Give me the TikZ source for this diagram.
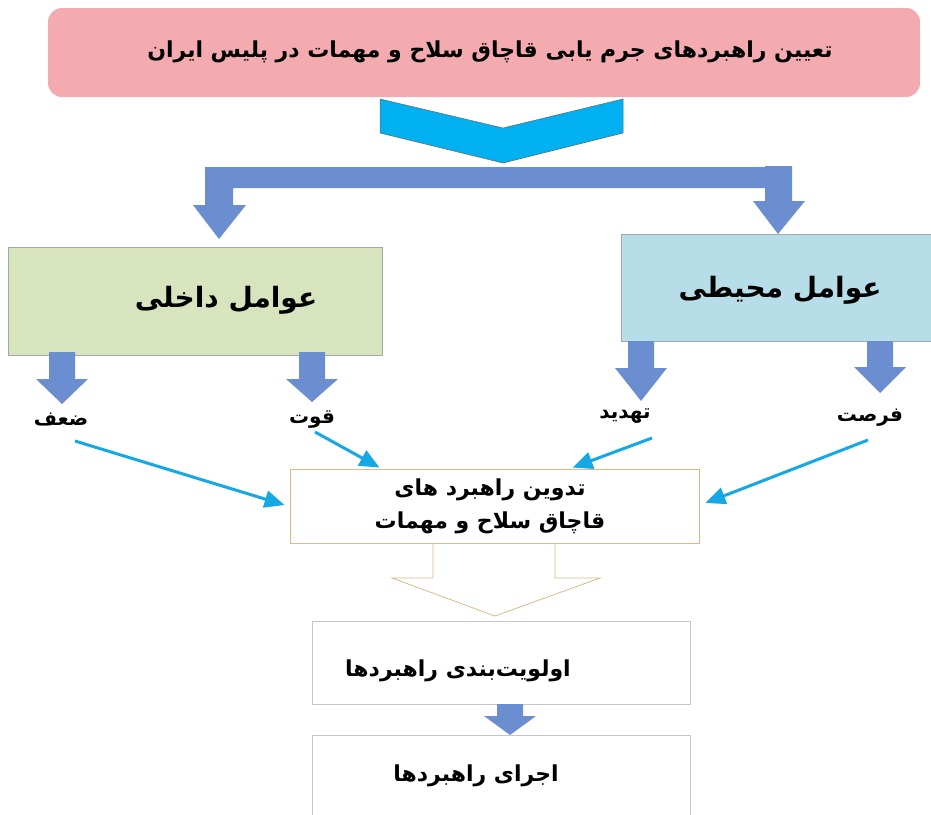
\documentclass[tikz,border=0pt]{standalone}
\usepackage{fontspec}
\newfontfamily\arabicfont[Script=Arabic]{DejaVu Sans}
\TeXXeTstate=1
\usetikzlibrary{calc}
\usetikzlibrary{arrows.meta}

\definecolor{titlepink}{RGB}{244,171,175}
\definecolor{innergreen}{RGB}{215,228,189}
\definecolor{outerblue}{RGB}{183,222,232}
\definecolor{blockblue}{RGB}{106,142,208}
\definecolor{chevcyan}{RGB}{0,176,240}
\definecolor{linkcyan}{RGB}{22,168,228}
\definecolor{tanline}{RGB}{214,186,140}

\begin{document}
\begin{tikzpicture}[x=1pt,y=-1pt,
  boxtxt/.style={font=\arabicfont\bfseries\fontsize{22}{27}\selectfont, inner sep=0},
  bigtxt/.style={font=\arabicfont\bfseries\fontsize{28}{33}\selectfont, inner sep=0},
  lbltxt/.style={font=\arabicfont\bfseries\fontsize{20}{24}\selectfont, inner sep=0},
  plainbox/.style={draw, inner sep=0, line width=0.8pt},
  link/.style={draw=linkcyan, line width=3pt, -{Triangle[length=20pt,width=17pt]}}]

\useasboundingbox (0,0) rectangle (931,814);

% boxes
\node[plainbox, draw=none, fill=titlepink, rounded corners=14pt, minimum width=872, minimum height=89] (title) at (484,52.5) {};
\node[boxtxt] (titleTxt) at (490,52) {\beginR تعیین راهبردهای جرم یابی قاچاق سلاح  و مهمات در پلیس ایران\endR};

\node[plainbox, draw=gray!70, fill=innergreen, minimum width=374, minimum height=108] (inner) at (195,301) {};
\node[bigtxt] (innerTxt) at (226,300) {\beginR عوامل داخلی\endR};

\node[plainbox, draw=gray!70, fill=outerblue, minimum width=314, minimum height=107] (outer) at (778,287.5) {};
\node[bigtxt] (outerTxt) at (780,290) {\beginR عوامل محیطی\endR};

\node[plainbox, draw=tanline, minimum width=409, minimum height=74] (mid) at (494.5,506) {};
\node[boxtxt, align=center] (midTxt) at (490,506) {\beginR تدوین راهبرد های\endR\\[6pt]\beginR قاچاق سلاح و مهمات\endR};

\node[plainbox, draw=gray!45, minimum width=378, minimum height=83] (prio) at (501,662.5) {};
\node[boxtxt] (prioTxt) at (458,671) {\beginR اولویت‌بندی راهبردها\endR};

\node[plainbox, draw=gray!45, minimum width=378, minimum height=100] (exec) at (501,785) {};
\node[boxtxt] (execTxt) at (476,776) {\beginR اجرای راهبردها\endR};

% chevron and split arrow
\draw[fill=chevcyan, draw=black!60, line width=0.5pt] (380,99) -- (503,128) -- (623,99) -- (623,133) -- (503,163) -- (380,133) -- cycle;
\fill[blockblue] (765,167) -- (205,167) -- (205,205) -- (193,205) -- (219,239) -- (246,205) -- (233,205) -- (233,188) -- (765,188) -- cycle;
\fill[blockblue] (765,166) -- (792,166) -- (792,201) -- (805,201) -- (778,234) -- (753,201) -- (765,201) -- cycle;

% small down arrows
\foreach \cx/\ytop/\yhead/\ytip in {62/352/379/404, 312/352/379/402, 641/341/368/401, 880/341/367/393, 510/704/716/735}{
	\fill[blockblue] (\cx-13,\ytop) -- (\cx+13,\ytop) -- (\cx+13,\yhead) -- (\cx+26,\yhead) -- (\cx,\ytip) -- (\cx-26,\yhead) -- (\cx-13,\yhead) -- cycle;
}

% labels
\node[lbltxt] (weak) at (61,420) {\beginR ضعف\endR};
\node[lbltxt] (strong) at (312,420) {\beginR قوت\endR};
\node[lbltxt] (threat) at (625,416) {\beginR تهدید\endR};
\node[lbltxt] (chance) at (870,418) {\beginR فرصت\endR};

\coordinate (weakS) at ($(weak)+(14,21)$);
\coordinate (strongS) at ($(strong)+(3,12)$);
\coordinate (threatS) at ($(threat)+(27,22)$);
\coordinate (chanceS) at ($(chance)+(-2,22)$);
\coordinate (weakE) at ($(mid.west)+(-5,-1)$);
\coordinate (strongE) at ($(mid.north west)+(90,-1)$);
\coordinate (threatE) at ($(mid.north west)+(283,-1)$);
\coordinate (chanceE) at ($(mid.east)+(6,-3)$);

\draw[link] (weakS) -- (weakE);
\draw[link] (strongS) -- (strongE);
\draw[link] (threatS) -- (threatE);
\draw[link] (chanceS) -- (chanceE);

% hollow arrow
\draw[tanline, line width=0.8pt] (433,543) -- (433,578) -- (392,578) -- (495,616) -- (600,578) -- (555,578) -- (555,543);

\end{tikzpicture}
\end{document}
